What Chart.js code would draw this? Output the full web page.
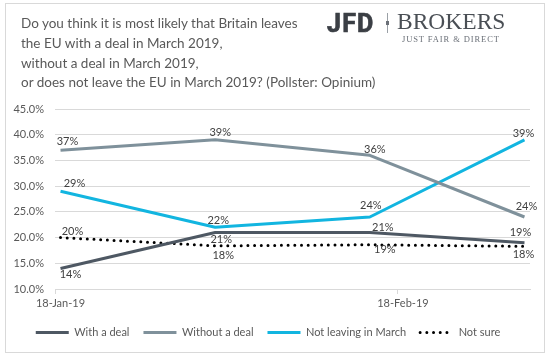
<!DOCTYPE html>
<html><head><meta charset="utf-8">
<script src="https://cdn.jsdelivr.net/npm/chart.js@4"></script>
<style>
html,body{margin:0;padding:0;background:#fff;}
#wrap{position:relative;width:551px;height:355px;overflow:hidden;background:#fff;}
#frame{position:absolute;left:5px;top:3px;width:540px;height:350px;border:1px solid #d9d9d9;box-sizing:border-box;}
#title{position:absolute;left:21px;top:14px;font-family:Lato,"Open Sans",sans-serif;font-size:13.5px;line-height:19.8px;color:#595959;white-space:nowrap;}
.logo{position:absolute;white-space:nowrap;line-height:1;}
#jfd{left:327px;top:11px;font-family:Roboto,Inter,sans-serif;font-weight:bold;font-size:25px;letter-spacing:1.2px;color:#3b3f45;-webkit-text-stroke:0.7px #3b3f45;}
#sep{position:absolute;left:387px;top:13px;width:1px;height:20px;background:#9aa0a6;}
#sepdot{position:absolute;left:386px;top:21px;width:3px;height:4px;background:#6b7078;}
#brokers{left:397px;top:10.3px;font-family:"Liberation Serif",serif;font-size:23.5px;color:#4a4f55;}
#tag{left:402px;top:35px;font-family:"Liberation Serif",serif;font-size:8.5px;letter-spacing:0.9px;color:#6b7078;}
canvas{position:absolute;left:0;top:0;}
</style>
</head><body>
<div id="wrap">
  <div id="frame"></div>
  <canvas id="c" width="551" height="355"></canvas>
  <div id="title">Do you think it is most likely that Britain leaves<br>the EU with a deal in March 2019,<br>without a deal in March 2019,<br>or does not leave the EU in March 2019? (Pollster: Opinium)</div>
  <div id="jfd" class="logo">JFD</div>
  <div id="sep"></div><div id="sepdot"></div>
  <div id="brokers" class="logo">BROKERS</div>
  <div id="tag" class="logo">JUST FAIR &amp; DIRECT</div>
</div>
<script>
// ---- data ----
const pollDates = ['2019-01-18', '2019-02-01', '2019-02-15', '2019-03-01'];
const withDeal = [14, 21, 21, 19];
const withoutDeal = [37, 39, 36, 24];
const notLeaving = [29, 22, 24, 39];
const notSure = [20, 18.4, 18.6, 18.3];
const seriesNames = ['With a deal', 'Without a deal', 'Not leaving in March', 'Not sure'];
const tickDates = ['2019-01-18', '2019-02-18'];
const tickLabels = ['18-Jan-19', '18-Feb-19'];
const yTicks = [10, 15, 20, 25, 30, 35, 40, 45];

const DAY = 86400000;
const t0 = Date.parse(pollDates[0]);
const dayOf = d => Math.round((Date.parse(d) - t0) / DAY);
const pts = arr => arr.map((v, i) => ({x: dayOf(pollDates[i]), y: v}));

const FONT = 'Lato, "Open Sans", sans-serif';
const TXT = '#595959';

const labelPlugin = {
  id: 'pointLabels',
  afterDatasetsDraw(chart) {
    const ctx = chart.ctx;
    ctx.save();
    ctx.font = '11px ' + FONT;
    ctx.fillStyle = '#404040';
    ctx.textAlign = 'center';
    ctx.textBaseline = 'middle';
    chart.data.datasets.forEach((ds, i) => {
      const meta = chart.getDatasetMeta(i);
      meta.data.forEach((pt, j) => {
        const off = ds.labelOffsets[j];
        ctx.fillText(Math.round(ds.data[j].y) + '%', pt.x + off[0], pt.y + off[1]);
      });
    });
    ctx.restore();
  }
};

new Chart(document.getElementById('c'), {
  type: 'line',
  data: {
    datasets: [
      {label: seriesNames[0], data: pts(withDeal), borderColor: '#4e5863', backgroundColor: '#4e5863',
       borderWidth: 3, borderJoinStyle: 'round',
       labelOffsets: [[10, 6], [6, 7], [13, -5], [-4, -10]]},
      {label: seriesNames[1], data: pts(withoutDeal), borderColor: '#7f919b', backgroundColor: '#7f919b',
       borderWidth: 3, borderJoinStyle: 'round',
       labelOffsets: [[7, -9], [5, -7], [5, -6], [2, -11]]},
      {label: seriesNames[2], data: pts(notLeaving), borderColor: '#12b5e0', backgroundColor: '#12b5e0',
       borderWidth: 3, borderJoinStyle: 'round',
       labelOffsets: [[14, -8], [3, -7], [1, -12], [-1, -6]]},
      {label: seriesNames[3], data: pts(notSure), borderColor: '#000000', backgroundColor: '#000000',
       borderWidth: 3, borderDash: [0, 6.7], borderCapStyle: 'round',
       labelOffsets: [[12, -6], [8, 10], [15, 5], [-1, 8]]}
    ]
  },
  options: {
    responsive: false,
    animation: false,
    devicePixelRatio: 1,
    layout: {padding: {left: 6, right: 21, top: 109, bottom: 7}},
    elements: {point: {radius: 0, hoverRadius: 0}, line: {tension: 0, fill: false}},
    plugins: {
      legend: {
        position: 'bottom',
        labels: {
          usePointStyle: true, pointStyle: 'line', pointStyleWidth: 33,
          font: {family: FONT, size: 11}, color: TXT, padding: 14,
          generateLabels: chart => {
            const items = Chart.defaults.plugins.legend.labels.generateLabels(chart);
            items.forEach((it, i) => {
              const ds = chart.data.datasets[i];
              it.lineDash = ds.borderDash || [];
              it.lineCap = ds.borderCapStyle || 'butt';
              it.strokeStyle = ds.borderColor;
              it.fillStyle = ds.borderColor;
              it.lineWidth = ds.borderWidth;
              it.pointStyle = 'line';
            });
            return items;
          }
        }
      },
      tooltip: {enabled: false},
      title: {display: false}
    },
    scales: {
      x: {
        type: 'linear', min: -0.5, max: 42.5,
        afterBuildTicks: s => { s.ticks = tickDates.map(d => ({value: dayOf(d) - 0.5})); },
        ticks: {callback: (v, i) => tickLabels[i], labelOffset: 5.5, padding: 3,
                font: {family: FONT, size: 11}, color: TXT, maxRotation: 0, autoSkip: false},
        grid: {drawOnChartArea: false, tickLength: 5, color: '#d9d9d9'},
        border: {color: '#d9d9d9'},
        afterFit: s => { s.height = 24; }
      },
      y: {
        min: 10, max: 45,
        afterBuildTicks: s => { s.ticks = yTicks.map(v => ({value: v})); },
        ticks: {callback: v => v.toFixed(1) + '%', padding: 11, font: {family: FONT, size: 11}, color: TXT},
        grid: {color: '#d9d9d9', drawTicks: false},
        border: {display: false},
        afterFit: s => { s.width = 49; }
      }
    }
  },
  plugins: [labelPlugin]
});
</script>
</body></html>
